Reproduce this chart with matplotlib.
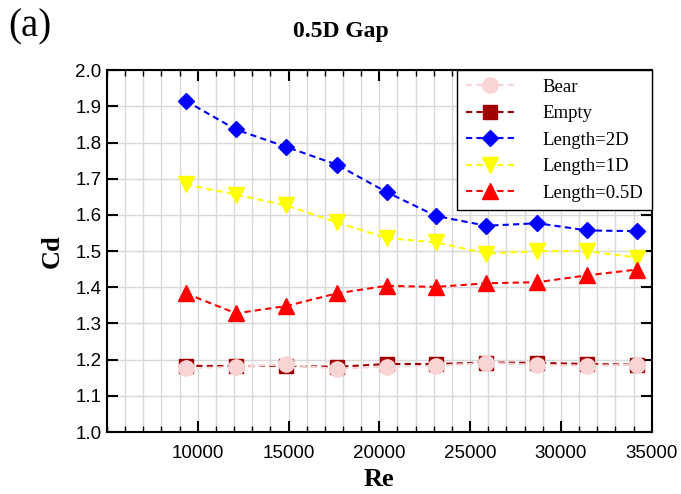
import matplotlib
matplotlib.use("Agg")
import matplotlib.pyplot as plt
from matplotlib.ticker import MultipleLocator

re_vals = [9350, 12100, 14870, 17650, 20400, 23120, 25900, 28700, 31450, 34200]
bear = [1.176, 1.180, 1.187, 1.174, 1.181, 1.183, 1.191, 1.186, 1.183, 1.186]
empty = [1.183, 1.182, 1.183, 1.180, 1.188, 1.188, 1.192, 1.191, 1.188, 1.186]
len2d = [1.915, 1.836, 1.788, 1.739, 1.663, 1.597, 1.570, 1.577, 1.557, 1.555]
len1d = [1.684, 1.656, 1.626, 1.580, 1.536, 1.524, 1.493, 1.500, 1.500, 1.482]
len05d = [1.383, 1.328, 1.348, 1.383, 1.404, 1.401, 1.411, 1.414, 1.433, 1.449]

labels = ["Bear", "Empty", "Length=2D", "Length=1D", "Length=0.5D"]
series = [bear, empty, len2d, len1d, len05d]
colors = ["#FAD4D4", "#A00000", "#0000FF", "#FFFF00", "#FF0000"]
markers = ["o", "s", "D", "v", "^"]
msizes = [11, 10, 8, 11, 11]
zorders = [9, 8, 5, 6, 7]

fig = plt.figure(figsize=(6.81, 4.94), dpi=100)
ax = fig.add_axes([0.157, 0.1255, 0.8, 0.7325])

handles = []
for i in range(5):
    h, = ax.plot(re_vals, series[i], linestyle=(0, (3, 2)), color=colors[i], lw=1.5,
                 marker=markers[i], markersize=msizes[i], markerfacecolor=colors[i],
                 markeredgecolor=colors[i], label=labels[i], zorder=zorders[i])
    handles.append(h)

ax.set_xlim(5000, 35000)
ax.set_ylim(1.0, 2.0)
ax.xaxis.set_major_locator(MultipleLocator(5000))
ax.xaxis.set_minor_locator(MultipleLocator(1000))
ax.yaxis.set_major_locator(MultipleLocator(0.1))
ax.grid(True, which="both", axis="x", color="#D8D8D8", lw=1)
ax.grid(True, which="major", axis="y", color="#D8D8D8", lw=1)
ax.set_axisbelow(True)

ax.tick_params(which="major", direction="in", length=8, width=1.5, top=True, right=True)
ax.tick_params(which="minor", direction="in", length=4, width=1, top=True, right=True)
ax.set_xticks([10000, 15000, 20000, 25000, 30000, 35000])
ax.set_xticklabels(["10000", "15000", "20000", "25000", "30000", "35000"],
                   fontfamily="Liberation Sans", fontsize=13.5)
yt = [1.0 + 0.1 * k for k in range(11)]
ax.set_yticks(yt)
ax.set_yticklabels([f"{v:.1f}" for v in yt], fontfamily="Liberation Sans", fontsize=13.5)
ax.tick_params(axis="x", pad=9)
ax.tick_params(axis="y", pad=4)

for s in ax.spines.values():
    s.set_linewidth(1.5)

ax.set_xlabel("Re", fontfamily="Liberation Serif", fontweight="bold", fontsize=19, labelpad=5)
ax.set_ylabel("Cd", fontfamily="Liberation Serif", fontweight="bold", fontsize=19, labelpad=8)

fig.text(0.5, 0.937, "0.5D Gap", ha="center", va="center", fontfamily="Liberation Serif",
         fontweight="bold", fontsize=17)
fig.text(0.012, 0.945, "(a)", ha="left", va="center", fontfamily="Liberation Serif",
         fontsize=28)

leg = ax.legend(handles, labels, loc="upper right",
                prop={"family": "Liberation Serif", "size": 13.5}, frameon=True,
                fancybox=False, edgecolor="black", framealpha=1, handlelength=2.6,
                borderaxespad=0.0, labelspacing=0.5, handletextpad=1.5, numpoints=1,
                borderpad=0.45)
leg.get_frame().set_linewidth(1.0)
leg.set_zorder(20)

fig.savefig("out.png", dpi=100)
